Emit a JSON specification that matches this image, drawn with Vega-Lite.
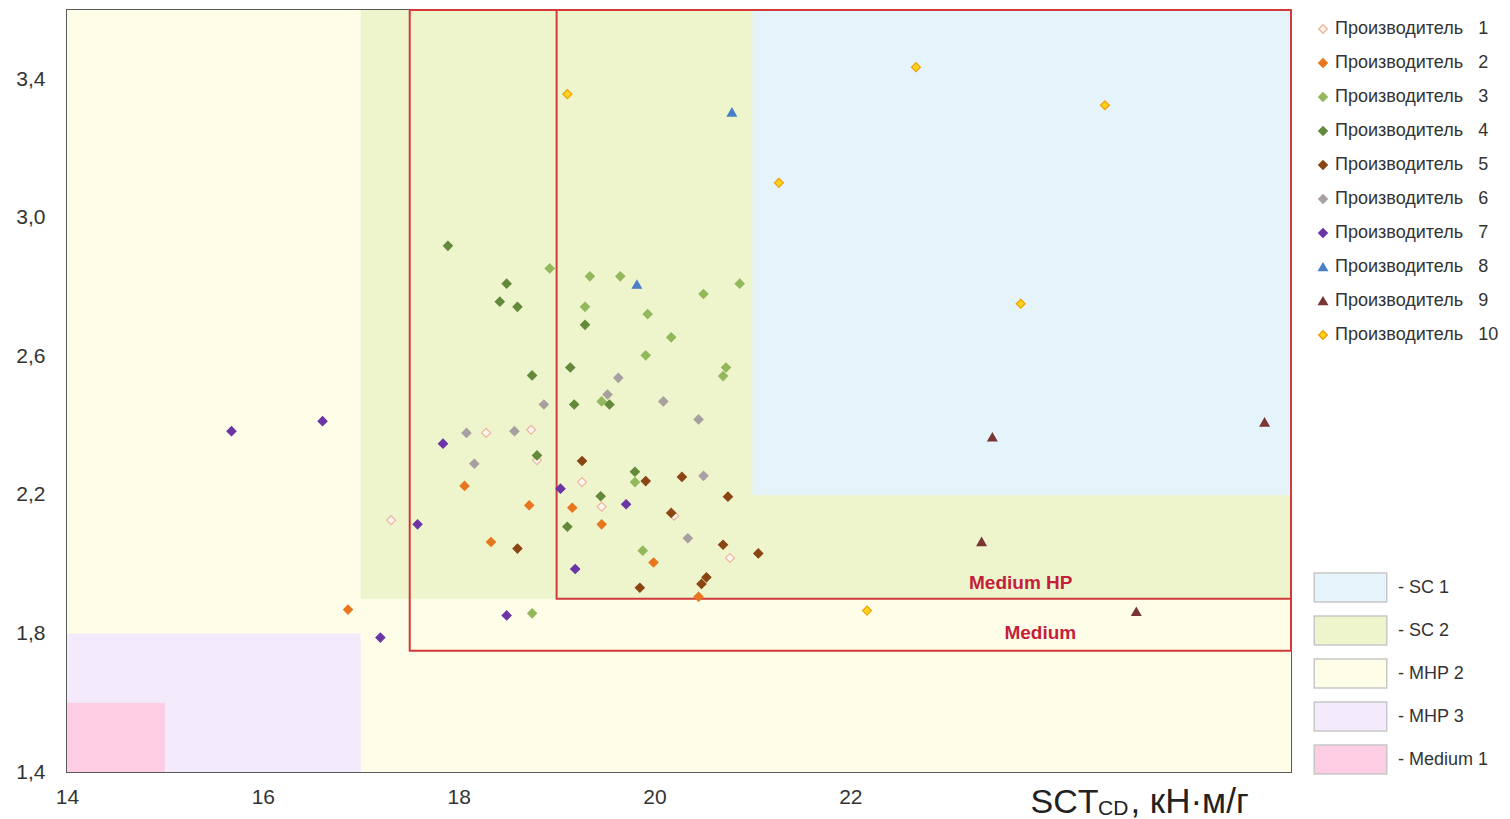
{
  "$schema": "https://vega.github.io/schema/vega-lite/v6.json",
  "autosize": {"type": "none"},
  "padding": {"left": 67, "top": 10, "right": 219, "bottom": 47},
  "width": 1224,
  "height": 762,
  "background": "white",
  "config": {
    "view": {"stroke": "#5a5a5a", "strokeWidth": 2},
    "font": "Liberation Sans",
    "axis": {"labelFont": "Liberation Sans", "labelFontSize": 21, "labelColor": "#333333", "ticks": false, "domain": false, "grid": false, "labelFlush": false}
  },
  "datasets": {
    "regions": [
      {"region": "MHP 2", "x0": 14, "x1": 26.5, "y0": 1.4, "y1": 3.6},
      {"region": "SC 2", "x0": 17, "x1": 26.5, "y0": 1.9, "y1": 3.6},
      {"region": "SC 1", "x0": 21, "x1": 26.5, "y0": 2.2, "y1": 3.6},
      {"region": "MHP 3", "x0": 14, "x1": 17, "y0": 1.4, "y1": 1.8},
      {"region": "Medium 1", "x0": 14, "x1": 15, "y0": 1.4, "y1": 1.6}
    ],
    "classes": [
      {"name": "Medium", "x0": 17.5, "x1": 26.5, "y0": 1.75, "y1": 3.6, "lx": 23.94, "ly": 1.80},
      {"name": "Medium HP", "x0": 19, "x1": 26.5, "y0": 1.9, "y1": 3.6, "lx": 23.74, "ly": 1.947}
    ],
    "points": [
      {"maker": "Производитель 1", "x": 18.28, "y": 2.379},
      {"maker": "Производитель 1", "x": 18.74, "y": 2.388},
      {"maker": "Производитель 1", "x": 18.80, "y": 2.300},
      {"maker": "Производитель 1", "x": 19.26, "y": 2.237},
      {"maker": "Производитель 1", "x": 19.46, "y": 2.166},
      {"maker": "Производитель 1", "x": 20.20, "y": 2.140},
      {"maker": "Производитель 1", "x": 17.31, "y": 2.127},
      {"maker": "Производитель 1", "x": 20.77, "y": 2.018},
      {"maker": "Производитель 2", "x": 18.06, "y": 2.226},
      {"maker": "Производитель 2", "x": 18.72, "y": 2.170},
      {"maker": "Производитель 2", "x": 19.16, "y": 2.163},
      {"maker": "Производитель 2", "x": 19.46, "y": 2.115},
      {"maker": "Производитель 2", "x": 18.33, "y": 2.064},
      {"maker": "Производитель 2", "x": 19.99, "y": 2.005},
      {"maker": "Производитель 2", "x": 20.45, "y": 1.906},
      {"maker": "Производитель 2", "x": 16.87, "y": 1.869},
      {"maker": "Производитель 3", "x": 18.93, "y": 2.854},
      {"maker": "Производитель 3", "x": 19.34, "y": 2.831},
      {"maker": "Производитель 3", "x": 19.65, "y": 2.831},
      {"maker": "Производитель 3", "x": 20.87, "y": 2.810},
      {"maker": "Производитель 3", "x": 20.50, "y": 2.780},
      {"maker": "Производитель 3", "x": 19.29, "y": 2.743},
      {"maker": "Производитель 3", "x": 19.93, "y": 2.722},
      {"maker": "Производитель 3", "x": 20.17, "y": 2.655},
      {"maker": "Производитель 3", "x": 19.91, "y": 2.603},
      {"maker": "Производитель 3", "x": 20.73, "y": 2.568},
      {"maker": "Производитель 3", "x": 20.70, "y": 2.543},
      {"maker": "Производитель 3", "x": 19.46, "y": 2.470},
      {"maker": "Производитель 3", "x": 19.80, "y": 2.237},
      {"maker": "Производитель 3", "x": 19.88, "y": 2.039},
      {"maker": "Производитель 3", "x": 18.75, "y": 1.858},
      {"maker": "Производитель 4", "x": 17.89, "y": 2.919},
      {"maker": "Производитель 4", "x": 18.49, "y": 2.810},
      {"maker": "Производитель 4", "x": 18.42, "y": 2.758},
      {"maker": "Производитель 4", "x": 18.60, "y": 2.743},
      {"maker": "Производитель 4", "x": 19.29, "y": 2.691},
      {"maker": "Производитель 4", "x": 19.14, "y": 2.568},
      {"maker": "Производитель 4", "x": 18.75, "y": 2.545},
      {"maker": "Производитель 4", "x": 19.54, "y": 2.461},
      {"maker": "Производитель 4", "x": 19.18, "y": 2.461},
      {"maker": "Производитель 4", "x": 18.80, "y": 2.314},
      {"maker": "Производитель 4", "x": 19.80, "y": 2.267},
      {"maker": "Производитель 4", "x": 19.45, "y": 2.196},
      {"maker": "Производитель 4", "x": 19.11, "y": 2.108},
      {"maker": "Производитель 5", "x": 19.26, "y": 2.298},
      {"maker": "Производитель 5", "x": 19.91, "y": 2.240},
      {"maker": "Производитель 5", "x": 20.28, "y": 2.252},
      {"maker": "Производитель 5", "x": 20.75, "y": 2.195},
      {"maker": "Производитель 5", "x": 20.17, "y": 2.148},
      {"maker": "Производитель 5", "x": 20.70, "y": 2.056},
      {"maker": "Производитель 5", "x": 21.06, "y": 2.031},
      {"maker": "Производитель 5", "x": 18.60, "y": 2.045},
      {"maker": "Производитель 5", "x": 20.53, "y": 1.962},
      {"maker": "Производитель 5", "x": 20.48, "y": 1.943},
      {"maker": "Производитель 5", "x": 19.85, "y": 1.932},
      {"maker": "Производитель 6", "x": 19.63, "y": 2.538},
      {"maker": "Производитель 6", "x": 19.52, "y": 2.490},
      {"maker": "Производитель 6", "x": 18.87, "y": 2.461},
      {"maker": "Производитель 6", "x": 20.09, "y": 2.470},
      {"maker": "Производитель 6", "x": 20.45, "y": 2.418},
      {"maker": "Производитель 6", "x": 18.08, "y": 2.379},
      {"maker": "Производитель 6", "x": 18.57, "y": 2.384},
      {"maker": "Производитель 6", "x": 18.16, "y": 2.290},
      {"maker": "Производитель 6", "x": 20.50, "y": 2.255},
      {"maker": "Производитель 6", "x": 20.34, "y": 2.075},
      {"maker": "Производитель 7", "x": 15.68, "y": 2.384},
      {"maker": "Производитель 7", "x": 16.61, "y": 2.413},
      {"maker": "Производитель 7", "x": 17.84, "y": 2.348},
      {"maker": "Производитель 7", "x": 19.04, "y": 2.218},
      {"maker": "Производитель 7", "x": 19.71, "y": 2.173},
      {"maker": "Производитель 7", "x": 17.58, "y": 2.115},
      {"maker": "Производитель 7", "x": 19.19, "y": 1.986},
      {"maker": "Производитель 7", "x": 18.49, "y": 1.852},
      {"maker": "Производитель 7", "x": 17.20, "y": 1.788},
      {"maker": "Производитель 8", "x": 19.82, "y": 2.808},
      {"maker": "Производитель 8", "x": 20.79, "y": 3.305},
      {"maker": "Производитель 9", "x": 23.45, "y": 2.367},
      {"maker": "Производитель 9", "x": 26.23, "y": 2.410},
      {"maker": "Производитель 9", "x": 23.34, "y": 2.065},
      {"maker": "Производитель 9", "x": 24.92, "y": 1.863},
      {"maker": "Производитель 10", "x": 19.11, "y": 3.357},
      {"maker": "Производитель 10", "x": 22.67, "y": 3.435},
      {"maker": "Производитель 10", "x": 24.60, "y": 3.325},
      {"maker": "Производитель 10", "x": 21.27, "y": 3.101},
      {"maker": "Производитель 10", "x": 23.74, "y": 2.752},
      {"maker": "Производитель 10", "x": 22.17, "y": 1.866}
    ]
  },
  "layer": [
    {
      "data": {"name": "regions"},
      "mark": {"type": "rect", "strokeWidth": 0},
      "encoding": {
        "x": {"field": "x0", "type": "quantitative", "scale": {"domain": [14, 26.5], "nice": false, "zero": false},
              "axis": {"title": null, "values": [14, 16, 18, 20, 22], "format": "d", "labelPadding": 14}},
        "x2": {"field": "x1"},
        "y": {"field": "y0", "type": "quantitative", "scale": {"domain": [1.4, 3.6], "nice": false, "zero": false},
              "axis": {"title": null, "values": [1.4, 1.8, 2.2, 2.6, 3.0, 3.4], "labelPadding": 22,
                       "labelExpr": "replace(format(datum.value, '.1f'), '.', ',')"}},
        "y2": {"field": "y1"},
        "color": {"field": "region", "type": "nominal",
                 "scale": {"domain": ["SC 1", "SC 2", "MHP 2", "MHP 3", "Medium 1"],
                           "range": ["#e5f3fb", "#eef5cd", "#fefee8", "#f3ebfb", "#fdcde4"]},
                 "legend": {"orient": "none", "legendX": 1268, "legendY": 562, "title": null, "padding": 0,
                            "symbolType": "M-2.5,-1H2.5V1H-2.5Z", "symbolSize": 841,
                            "symbolStrokeColor": "#c8c8c8", "symbolStrokeWidth": 1.5,
                            "rowPadding": 8, "labelFontSize": 18, "labelColor": "#333333",
                            "labelOffset": 32, "labelExpr": "'- ' + datum.label"}}
      }
    },
    {
      "data": {"name": "classes"},
      "mark": {"type": "rect", "fill": null, "stroke": "#d23a3a", "strokeWidth": 2},
      "encoding": {
        "x": {"field": "x0", "type": "quantitative"},
        "x2": {"field": "x1"},
        "y": {"field": "y0", "type": "quantitative"},
        "y2": {"field": "y1"}
      }
    },
    {
      "data": {"name": "classes"},
      "mark": {"type": "text", "fontSize": 19, "fontWeight": "bold", "color": "#c41e3a", "font": "Liberation Sans"},
      "encoding": {
        "x": {"field": "lx", "type": "quantitative"},
        "y": {"field": "ly", "type": "quantitative"},
        "text": {"field": "name"}
      }
    },
    {
      "data": {"name": "points"},
      "mark": {"type": "point", "filled": false, "opacity": 1, "size": 80, "strokeWidth": 1.2},
      "encoding": {
        "x": {"field": "x", "type": "quantitative"},
        "y": {"field": "y", "type": "quantitative"},
        "fill": {"field": "maker", "type": "nominal",
                 "scale": {"domain": ["Производитель 1", "Производитель 2", "Производитель 3", "Производитель 4", "Производитель 5", "Производитель 6", "Производитель 7", "Производитель 8", "Производитель 9", "Производитель 10"],
                           "range": ["#fff8f2", "#e8761e", "#93b85c", "#628a3a", "#8b4513", "#a8a0a0", "#6b35a5", "#4a80c8", "#7a3535", "#ffd21e"]},
                 "legend": {"orient": "none", "legendX": 1247, "legendY": 10, "title": null, "padding": 0,
                            "symbolSize": 70, "rowPadding": 16, "labelFontSize": 18, "labelColor": "#333333", "labelOffset": 3,
                            "labelLimit": 300,
                            "labelExpr": "replace(datum.label, ' ', '\u00a0\u00a0\u00a0')"}},
        "stroke": {"field": "maker", "type": "nominal",
                   "scale": {"domain": ["Производитель 1", "Производитель 2", "Производитель 3", "Производитель 4", "Производитель 5", "Производитель 6", "Производитель 7", "Производитель 8", "Производитель 9", "Производитель 10"],
                             "range": ["#f0b49c", "#e8761e", "#93b85c", "#628a3a", "#8b4513", "#a8a0a0", "#6b35a5", "#4a80c8", "#7a3535", "#f0a000"]}},
        "shape": {"field": "maker", "type": "nominal",
                  "scale": {"domain": ["Производитель 1", "Производитель 2", "Производитель 3", "Производитель 4", "Производитель 5", "Производитель 6", "Производитель 7", "Производитель 8", "Производитель 9", "Производитель 10"],
                            "range": ["diamond", "diamond", "diamond", "diamond", "diamond", "diamond", "diamond", "triangle-up", "triangle-up", "diamond"]}}
      }
    },
    {
      "data": {"values": [{}]},
      "mark": {"type": "text", "align": "left", "baseline": "alphabetic", "fontSize": 34, "color": "#222222", "font": "Liberation Sans"},
      "encoding": {"x": {"datum": 23.84, "type": "quantitative"}, "y": {"datum": 1.282, "type": "quantitative"}, "text": {"value": "SCT"}}
    },
    {
      "data": {"values": [{}]},
      "mark": {"type": "text", "align": "left", "baseline": "alphabetic", "fontSize": 21, "color": "#222222", "font": "Liberation Sans"},
      "encoding": {"x": {"datum": 24.53, "type": "quantitative"}, "y": {"datum": 1.275, "type": "quantitative"}, "text": {"value": "CD"}}
    },
    {
      "data": {"values": [{}]},
      "mark": {"type": "text", "align": "left", "baseline": "alphabetic", "fontSize": 35, "color": "#222222", "font": "Liberation Sans"},
      "encoding": {"x": {"datum": 24.86, "type": "quantitative"}, "y": {"datum": 1.282, "type": "quantitative"}, "text": {"value": ", кН·м/г"}}
    }
  ]
}
